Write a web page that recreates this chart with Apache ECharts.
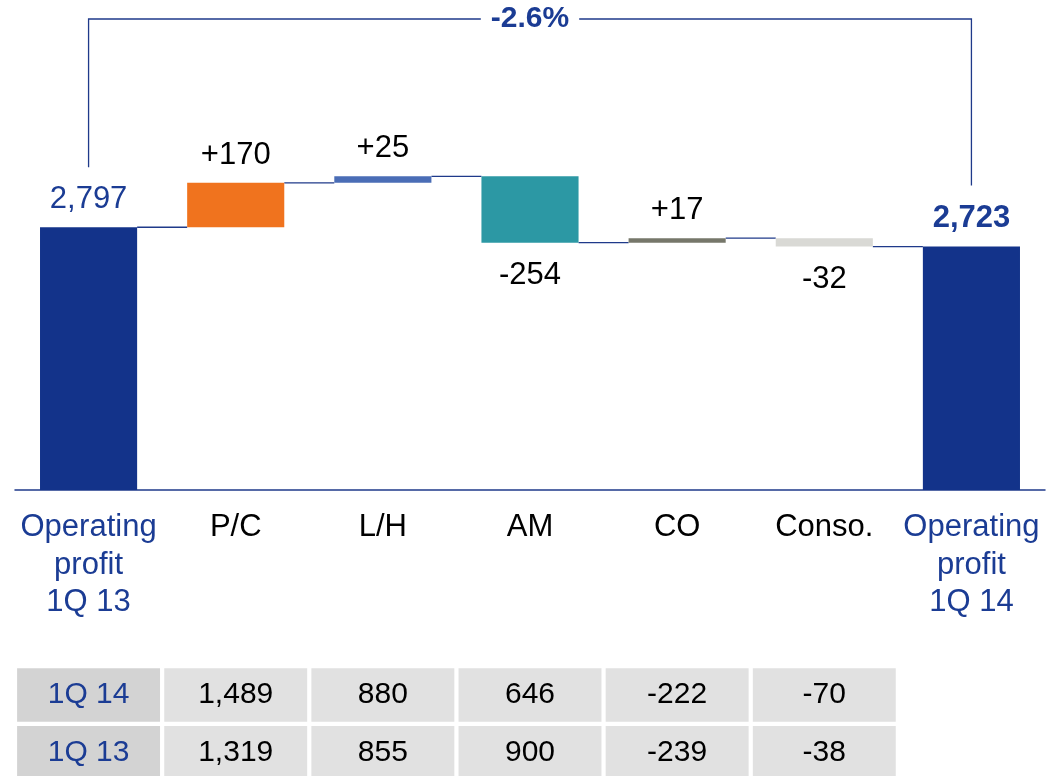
<!DOCTYPE html>
<html>
<head>
<meta charset="utf-8">
<script src="https://cdn.jsdelivr.net/npm/echarts@6/dist/echarts.min.js"></script>
<style>
  html, body { margin: 0; padding: 0; background: #fff; }
  #chart { width: 1056px; height: 776px; }
</style>
</head>
<body>
<div id="chart"></div>
<script>
// waterfall data
const categories = ['Operating\nprofit\n1Q 13', 'P/C', 'L/H', 'AM', 'CO', 'Conso.', 'Operating\nprofit\n1Q 14']
const startTotal = 2797
const endTotal = 2723
const changes = [170, 25, -254, 17, -32]
const changePct = '-2.6%'

// table under the chart
const tableRows = ['1Q 14', '1Q 13']
const values1Q14 = [1489, 880, 646, -222, -70]
const values1Q13 = [1319, 855, 900, -239, -38]

const navy = '#13338A'
const blueText = '#1B3C94'
const lineBlue = '#1F3A8A'
const barColors = [navy, '#F0731E', '#4A6DB6', '#2C98A4', '#76776A', '#D9D9D5', navy]
const font = '"Liberation Sans", Arial, sans-serif'

// running levels after each step
const levels = [startTotal]
changes.forEach((c) => levels.push(levels[levels.length - 1] + c))

const fmt = (v) => v.toLocaleString('en-US')
const signed = (v) => (v > 0 ? '+' : '') + fmt(v)

const helperData = [0]
const visibleData = [{
  value: startTotal,
  itemStyle: { color: barColors[0] },
  label: { position: 'top', distance: 12, color: blueText, formatter: fmt(startTotal) }
}]
changes.forEach((c, i) => {
  helperData.push(Math.min(levels[i], levels[i + 1]))
  visibleData.push({
    value: Math.abs(c),
    itemStyle: { color: barColors[i + 1] },
    label: {
      position: c >= 0 ? 'top' : 'bottom',
      distance: c >= 0 ? 12 : 17,
      color: '#000',
      formatter: signed(c)
    }
  })
})
helperData.push(0)
visibleData.push({
  value: endTotal,
  itemStyle: { color: barColors[6] },
  label: { position: 'top', distance: 13, color: blueText, fontWeight: 'bold', formatter: fmt(endTotal) }
})

const connectorData = levels.map((lvl, i) => [i, lvl])

const tableCells = []
tableRows.forEach((name, r) => {
  const vals = r === 0 ? values1Q14 : values1Q13
  tableCells.push({ col: 0, row: r, text: name })
  vals.forEach((v, c) => tableCells.push({ col: c + 1, row: r, text: fmt(v) }))
})

const chart = echarts.init(document.getElementById('chart'), null, { renderer: 'canvas' })

chart.setOption({
  animation: false,
  backgroundColor: '#fff',
  textStyle: { fontFamily: font },
  grid: [
    { left: 15, right: 11, top: 19, bottom: 286 },
    { left: 15, right: 11, top: 666, bottom: 0 }
  ],
  xAxis: [
    {
      type: 'category',
      data: categories,
      axisLine: { lineStyle: { color: lineBlue, width: 1.5 } },
      axisTick: { show: false },
      axisLabel: {
        interval: 0,
        margin: 19,
        fontSize: 31,
        lineHeight: 37.5,
        fontFamily: font,
        color: (v, i) => (i === 0 || i === categories.length - 1 ? blueText : '#000')
      }
    },
    { type: 'category', gridIndex: 1, data: categories, show: false }
  ],
  yAxis: [
    { type: 'value', min: 1790, max: 3595, show: false, splitLine: { show: false } },
    // table rows: one unit per row, second row runs off the bottom edge
    { type: 'value', gridIndex: 1, min: 0, max: 1.9, inverse: true, show: false }
  ],
  series: [
    {
      name: 'helper',
      type: 'bar',
      stack: 'wf',
      barWidth: '66%',
      clip: true,
      itemStyle: { color: 'transparent' },
      emphasis: { disabled: true },
      data: helperData
    },
    {
      name: 'value',
      type: 'bar',
      stack: 'wf',
      barWidth: '66%',
      clip: true,
      z: 3,
      label: { show: true, fontSize: 31, fontFamily: font },
      data: visibleData
    },
    {
      name: 'connectors',
      type: 'custom',
      z: 2,
      data: connectorData,
      renderItem: (params, api) => {
        const i = api.value(0)
        const lvl = api.value(1)
        const a = api.coord([i, lvl])
        const b = api.coord([i + 1, lvl])
        const half = api.size([1, 0])[0] * 0.33
        return {
          type: 'line',
          shape: { x1: a[0] + half, y1: a[1], x2: b[0] - half, y2: b[1] },
          style: { stroke: lineBlue, lineWidth: 1.3 }
        }
      }
    },
    {
      name: 'bracket',
      type: 'custom',
      clip: false,
      z: 4,
      data: [[0, startTotal, 6, endTotal]],
      encode: { x: [0, 2], y: [1, 3] },
      renderItem: (params, api) => {
        const p0 = api.coord([api.value(0), api.value(1)])
        const p1 = api.coord([api.value(2), api.value(3)])
        const top = params.coordSys.y
        return {
          type: 'group',
          children: [
            {
              type: 'polyline',
              shape: { points: [[p0[0], p0[1] - 60], [p0[0], top], [p1[0], top], [p1[0], p1[1] - 61]] },
              style: { stroke: lineBlue, lineWidth: 1.3, fill: null }
            },
            {
              type: 'text',
              x: (p0[0] + p1[0]) / 2,
              y: top,
              style: {
                text: changePct,
                fill: blueText,
                font: 'bold 30px ' + font,
                align: 'center',
                verticalAlign: 'middle',
                backgroundColor: '#fff',
                padding: [0, 10]
              }
            }
          ]
        }
      }
    },
    {
      name: 'table',
      type: 'custom',
      xAxisIndex: 1,
      yAxisIndex: 1,
      clip: false,
      data: tableCells.map((c) => [c.col, c.row]),
      renderItem: (params, api) => {
        const cell = tableCells[params.dataIndex]
        const c = api.coord([api.value(0), api.value(1) + 0.5])
        const s = api.size([1, 1])
        const gx = 2.1
        const gy = 2.2
        return {
          type: 'group',
          children: [
            {
              type: 'rect',
              shape: { x: c[0] - s[0] / 2 + gx, y: c[1] - s[1] / 2 + gy, width: s[0] - 2 * gx, height: s[1] - 2 * gy },
              style: { fill: cell.col === 0 ? '#D3D3D3' : '#E1E1E1' }
            },
            {
              type: 'text',
              x: c[0],
              y: c[1],
              style: {
                text: cell.text,
                fill: cell.col === 0 ? blueText : '#000',
                font: '30px ' + font,
                align: 'center',
                verticalAlign: 'middle'
              }
            }
          ]
        }
      }
    }
  ]
})

window.addEventListener('resize', () => chart.resize())
</script>
</body>
</html>
